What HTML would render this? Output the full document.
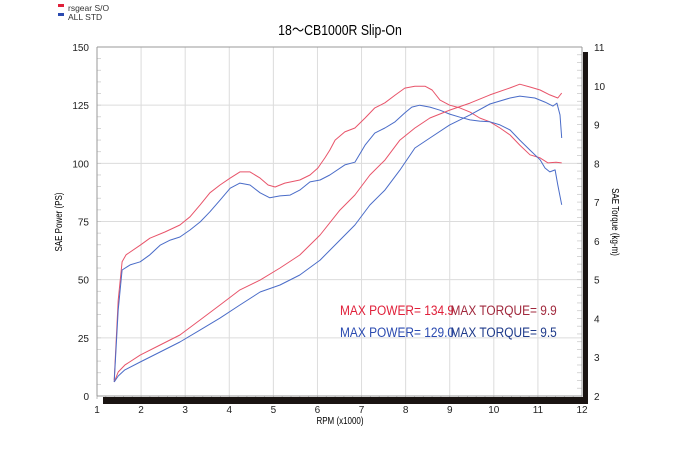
<!DOCTYPE html>
<html><head><meta charset="utf-8"><style>
body{margin:0;background:#fff;}
svg{display:block;font-family:"Liberation Sans",sans-serif;}
.t{font-family:"Liberation Sans",sans-serif;}
</style></head><body>
<svg id="c" width="680" height="450" viewBox="0 0 680 450">
<g id="grid"></g>
<g id="axes"></g>
<g id="series"></g>
<rect x="58" y="4" width="6" height="3" fill="#e0203a"/>
<text x="68" y="11" font-size="8.5" fill="#333">rsgear S/O</text>
<rect x="58" y="13" width="6" height="3" fill="#2a4ab0"/>
<text x="68" y="20" font-size="8.5" fill="#333">ALL STD</text>
<text x="340" y="35" font-size="15" text-anchor="middle" transform="translate(340 0) scale(0.82 1) translate(-340 0)">18～CB1000R Slip-On</text>
<text x="0" y="0" font-size="10" text-anchor="middle" transform="translate(62 222) rotate(-90) scale(0.8 1)">SAE Power (PS)</text>
<text x="0" y="0" font-size="10" text-anchor="middle" transform="translate(612 222) rotate(90) scale(0.8 1)">SAE Torque (kg-m)</text>
<text x="340" y="424" font-size="10" text-anchor="middle" transform="translate(340 0) scale(0.8 1) translate(-340 0)">RPM (x1000)</text>
<g font-size="14" transform="translate(340 0) scale(0.85 1) translate(-340 0)">
<text x="340" y="315" fill="#e0203a">MAX POWER= 134.9</text>
<text x="470" y="315" fill="#a0283c">MAX TORQUE= 9.9</text>
<text x="340" y="337" fill="#2a4ab0">MAX POWER= 129.0</text>
<text x="470" y="337" fill="#1e3a8a">MAX TORQUE= 9.5</text>
</g>
</svg>
<script>
const xTicks=[1,2,3,4,5,6,7,8,9,10,11,12];
const powerTicks=[0,25,50,75,100,125,150];
const torqueTicks=[2,3,4,5,6,7,8,9,10,11];
const redTorqueRpm=[1.39,1.48,1.57,1.66,1.98,2.20,2.54,2.88,3.11,3.34,3.56,3.79,4.02,4.24,4.47,4.70,4.88,5.04,5.26,5.60,5.83,6.01,6.17,6.28,6.40,6.62,6.85,7.08,7.30,7.53,7.76,7.98,8.21,8.44,8.60,8.78,9.00,9.23,9.46,9.68,9.91,10.14,10.37,10.59,10.82,11.05,11.23,11.41,11.54];
const redTorque=[2.41,4.47,5.46,5.64,5.89,6.07,6.23,6.41,6.62,6.93,7.24,7.44,7.62,7.78,7.78,7.62,7.44,7.39,7.49,7.57,7.70,7.88,8.14,8.34,8.60,8.81,8.91,9.17,9.43,9.56,9.76,9.94,9.99,9.99,9.89,9.63,9.50,9.43,9.32,9.17,9.07,8.91,8.73,8.47,8.22,8.14,8.01,8.03,8.01];
const blueTorqueRpm=[1.39,1.48,1.57,1.75,1.98,2.20,2.43,2.66,2.88,3.11,3.34,3.56,3.79,4.02,4.24,4.47,4.70,4.92,5.15,5.38,5.60,5.83,6.06,6.28,6.62,6.85,7.08,7.30,7.53,7.76,7.98,8.14,8.32,8.55,8.78,9.00,9.23,9.46,9.68,9.91,10.14,10.37,10.59,10.82,11.05,11.16,11.27,11.39,11.45,11.54];
const blueTorque=[2.36,4.22,5.25,5.38,5.46,5.64,5.89,6.02,6.10,6.28,6.49,6.75,7.05,7.36,7.49,7.44,7.24,7.11,7.16,7.18,7.31,7.52,7.57,7.70,7.96,8.03,8.47,8.78,8.91,9.07,9.30,9.45,9.50,9.45,9.37,9.27,9.19,9.12,9.09,9.07,8.99,8.86,8.60,8.34,8.09,7.88,7.78,7.83,7.44,6.93];
const redPowerRpm=[1.39,1.48,1.63,1.98,2.43,2.88,3.34,3.79,4.24,4.70,5.15,5.60,6.06,6.51,6.85,7.19,7.53,7.87,8.21,8.55,9.00,9.46,9.91,10.37,10.59,10.82,11.05,11.27,11.45,11.54];
const redPower=[6.0,10.3,13.3,17.6,21.9,26.2,32.7,39.1,45.6,49.8,55.0,60.6,69.2,79.9,86.4,95.0,101.4,110.0,115.2,119.5,122.9,125.9,129.4,132.4,134.0,132.8,131.5,129.4,128.1,130.2];
const bluePowerRpm=[1.39,1.48,1.63,1.98,2.43,2.88,3.34,3.79,4.24,4.70,5.15,5.60,6.06,6.51,6.85,7.19,7.53,7.87,8.21,8.55,9.00,9.46,9.91,10.37,10.59,10.93,11.16,11.34,11.43,11.50,11.54];
const bluePower=[6.0,8.6,11.2,14.6,18.9,23.2,28.4,33.5,39.1,44.7,47.7,52.0,58.4,67.0,73.5,82.1,88.5,97.1,106.6,110.9,116.5,120.8,125.5,128.1,128.9,128.1,126.3,124.6,125.9,120.8,110.9];

const L=97,R=582,T=47,B=396;
const xs=r=>L+(r-1)*(R-L)/11;
const yP=p=>B-p*(B-T)/150;
const yT=t=>B-(t-2)*(B-T)/9;
const NS="http://www.w3.org/2000/svg";
function mk(tag,attrs,parent){const e=document.createElementNS(NS,tag);for(const k in attrs)e.setAttribute(k,attrs[k]);parent.appendChild(e);return e;}
const grid=document.getElementById('grid'),axes=document.getElementById('axes'),series=document.getElementById('series');

xTicks.forEach(r=>{
  if(r>1&&r<12){const g=mk('line',{x1:xs(r),x2:xs(r),y1:T,y2:B,stroke:'#dcdcdc','stroke-width':1},grid);
  
  }
  const t=mk('text',{x:xs(r),y:413,'font-size':10,'text-anchor':'middle',fill:'#222'},axes);
  t.textContent=r;
  
  
});
for(let r=1;r<12;r+=0.2){mk('line',{x1:xs(r),x2:xs(r),y1:B,y2:B+3,stroke:'#aaa','stroke-width':0.8},axes);}
powerTicks.forEach(p=>{
  if(p>0&&p<150){const g=mk('line',{x1:L,x2:R,y1:yP(p),y2:yP(p),stroke:'#dcdcdc','stroke-width':1},grid);
  
  }
  const t=mk('text',{x:89,y:yP(p)+4,'font-size':10,'text-anchor':'end',fill:'#222'},axes);
  t.textContent=p;
  
  
});
for(let p=0;p<150;p+=5){mk('line',{x1:L,x2:L+4,y1:yP(p),y2:yP(p),stroke:'#ccc','stroke-width':0.8},axes);}
torqueTicks.forEach(v=>{
  const t=mk('text',{x:594,y:yT(v)+4,'font-size':10,fill:'#222'},axes);
  t.textContent=v;
  
  
});
for(let v=2;v<11;v+=0.2){mk('line',{x1:R-5,x2:R,y1:yT(v),y2:yT(v),stroke:'#ccc','stroke-width':0.8},axes);}
mk('line',{x1:L,x2:R,y1:T,y2:T,stroke:'#999','stroke-width':1},axes);
mk('line',{x1:L,x2:L,y1:T,y2:B,stroke:'#999','stroke-width':1},axes);
mk('line',{x1:L,x2:R,y1:B,y2:B,stroke:'#999','stroke-width':1},axes);
mk('line',{x1:R,x2:R,y1:T,y2:B,stroke:'#999','stroke-width':1},axes);
const sb=mk('rect',{x:103,y:397,width:485,height:7,fill:'#1a1412'},axes);


const sr=mk('rect',{x:583,y:52,width:5,height:352,fill:'#1a1412'},axes);



function line(rpm,vals,yf,color,name){
  const d=rpm.map((r,i)=>(i?'L':'M')+xs(r).toFixed(1)+' '+yf(vals[i]).toFixed(1)).join(' ');
  const p=mk('path',{d:d,fill:'none',stroke:color,'stroke-width':1,'stroke-linejoin':'round'},series);
  
  
}
line(redTorqueRpm,redTorque,yT,'#e8546a','rsgear-torque-line');
line(blueTorqueRpm,blueTorque,yT,'#4a6cc8','std-torque-line');
line(redPowerRpm,redPower,yP,'#e8546a','rsgear-power-line');
line(bluePowerRpm,bluePower,yP,'#4a6cc8','std-power-line');
</script>
</body></html>
